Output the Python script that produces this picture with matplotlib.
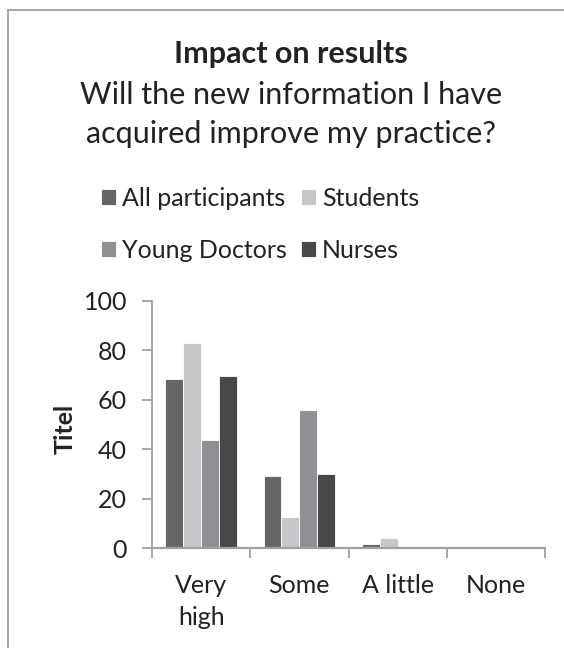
import matplotlib.pyplot as plt
import numpy as np

plt.rcParams['font.family'] = ['Lato', 'DejaVu Sans']

# data
categories = ["Very\nhigh", "Some", "A little", "None"]
series_names = ["All participants", "Students", "Young Doctors", "Nurses"]
all_participants = [68.5, 29.0, 1.7, 0]
students = [83.1, 12.4, 4.0, 0]
young_doctors = [43.9, 56.0, 0, 0]
nurses = [69.6, 30.1, 0, 0]
colors = ["#666666", "#c6c7c9", "#8f9094", "#47484a"]

values = [all_participants, students, young_doctors, nurses]
W, H = 564, 648

fig = plt.figure(figsize=(W / 100, H / 100), dpi=100)
ax = fig.add_axes([152 / W, 1 - 548 / H, (545 - 152) / W, (548 - 301) / H])

x = np.arange(len(categories))
w = 0.182
bars = []
for i, (name, vals) in enumerate(zip(series_names, values)):
    b = ax.bar(x + (i - 1.5) * w, vals, w, color=colors[i], label=name,
               edgecolor="white", linewidth=0.6)
    bars.append(b)

ax.set_xlim(-0.5, len(categories) - 0.5)
ax.set_ylim(0, 100)
ax.set_yticks(range(0, 101, 20))
ax.set_xticks(x)
ax.set_xticklabels(categories, fontsize=18, color="#222222", linespacing=1.45)
ax.tick_params(axis="y", labelsize=18, colors="#a0a0a0", labelcolor="#222222",
               length=7, width=1.3, pad=11)
ax.tick_params(axis="x", length=0, pad=19)
# ticks between categories on x axis
ax.set_xticks(np.arange(-0.5, len(categories), 1.0), minor=True)
ax.tick_params(axis="x", which="minor", length=7, width=1.3, colors="#a0a0a0")
for s in ["top", "right"]:
    ax.spines[s].set_visible(False)
ax.spines["left"].set_color("#a0a0a0")
ax.spines["bottom"].set_color("#a0a0a0")
ax.spines["left"].set_linewidth(1.3)
ax.spines["bottom"].set_linewidth(1.6)
ax.set_ylabel("Titel", fontsize=18, fontweight="bold", color="#222222")
ax.yaxis.set_label_coords((77 - 152) / (545 - 152), (548 - 429) / (548 - 301))

fig.text(291 / W, 1 - 63 / H, "Impact on results", ha="center", va="baseline",
         fontsize=22, fontweight="bold", color="#222222")
fig.text(291 / W, 1 - 104 / H, "Will the new information I have", ha="center",
         va="baseline", fontsize=22, color="#222222")
fig.text(291 / W, 1 - 143 / H, "acquired improve my practice?", ha="center",
         va="baseline", fontsize=22, color="#222222")

# column-wise fill: All / Young Doctors in first column, Students / Nurses in second
order = [0, 2, 1, 3]
fig.legend([bars[i] for i in order], [series_names[i] for i in order],
           loc="upper left", bbox_to_anchor=(101 / W, 1 - 187 / H), ncol=2,
           frameon=False, fontsize=18, handlelength=0.6, handleheight=0.6,
           handletextpad=0.25, columnspacing=0.55, labelspacing=1.15,
           borderpad=0, borderaxespad=0, labelcolor="#222222")

# outer chart frame (cut off at right and bottom)
fig.add_artist(plt.Line2D([8 / W, 8 / W], [0, 1 - 10 / H],
                          transform=fig.transFigure, color="#a0a0a0", lw=1.3))
fig.add_artist(plt.Line2D([8 / W, 1], [1 - 10 / H, 1 - 10 / H],
                          transform=fig.transFigure, color="#a0a0a0", lw=1.3))

fig.savefig("out.png", dpi=100)
